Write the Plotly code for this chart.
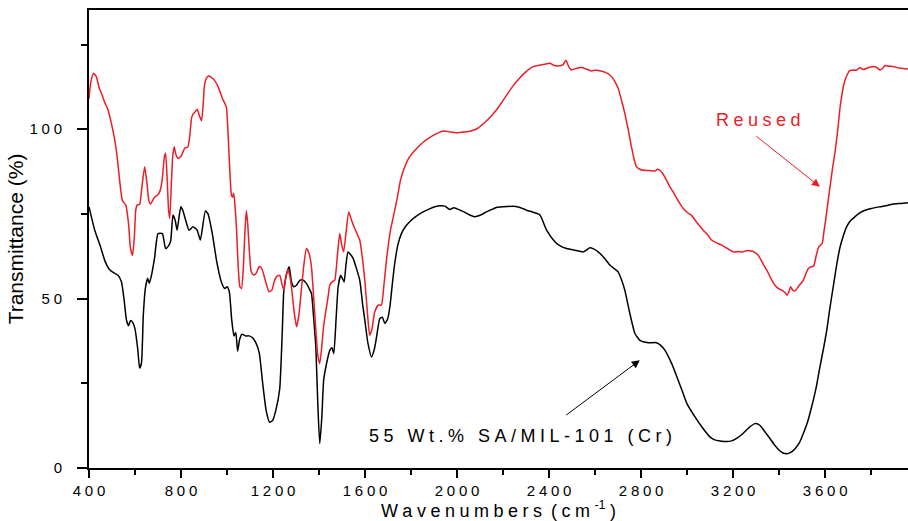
import plotly.graph_objects as go

# ---------------- data ----------------
wn_sample = [400, 425, 450, 470, 490, 510, 526, 541, 552, 563, 572, 580, 590, 600, 612, 620, 628, 636, 645, 655,
             662, 672, 685, 700, 719, 733, 745, 755, 765, 775, 783, 799, 808, 820, 835, 852, 870, 884, 906, 917,
             936, 955, 975, 990, 1000, 1010, 1020, 1030, 1038, 1046, 1055, 1065, 1080, 1095, 1110, 1125, 1140, 1155, 1170, 1185,
             1198, 1212, 1229, 1240, 1247, 1258, 1270, 1280, 1290, 1303, 1316, 1330, 1345, 1357, 1367, 1378, 1386, 1395, 1403, 1412,
             1420, 1433, 1447, 1456, 1464, 1474, 1483, 1494, 1501, 1509, 1517, 1526, 1537, 1548, 1562, 1577, 1590, 1599, 1612, 1628,
             1640, 1650, 1664, 1675, 1686, 1698, 1708, 1718, 1729, 1743, 1758, 1775, 1794, 1820, 1852, 1880, 1903, 1930, 1947, 1958,
             1968, 1985, 2000, 2030, 2055, 2077, 2100, 2128, 2150, 2171, 2200, 2243, 2270, 2302, 2330, 2360, 2389, 2425, 2450, 2476,
             2510, 2548, 2563, 2577, 2595, 2613, 2640, 2664, 2700, 2715, 2729, 2751, 2773, 2795, 2831, 2867, 2885, 2903, 2933, 2961,
             2980, 2999, 3034, 3070, 3099, 3120, 3143, 3170, 3193, 3220, 3243, 3270, 3295, 3310, 3323, 3340, 3360, 3380, 3398, 3415,
             3433, 3450, 3469, 3488, 3505, 3523, 3541, 3560, 3577, 3592, 3607, 3620, 3635, 3650, 3665, 3680, 3693, 3710, 3730, 3750,
             3773, 3800, 3838, 3870, 3896, 3930, 3960]
t_sample = [77.1, 70.2, 65.3, 61, 58.5, 57.5, 56.9, 55, 50, 43.6, 42, 43.5, 43, 41, 35, 29.5, 31, 45, 53, 56,
            54.5, 57, 62, 69.2, 69.2, 64.8, 65.5, 67, 74.7, 73, 70.2, 77.1, 76, 73.2, 70.2, 71.2, 70.2, 67.3, 75.9, 75.1,
            69.2, 61, 55, 53, 53.5, 52, 44, 39, 40, 34.5, 38, 39.5, 39, 39, 38.5, 37, 34, 25, 17, 13.5,
            14, 17, 23.4, 40, 52.5, 57, 59.4, 55, 53.5, 54, 55.4, 55.5, 54.5, 53, 51.5, 43, 35.7, 18, 7.2, 15,
            25.9, 31, 34.8, 35.5, 33.8, 44, 53.5, 56.9, 56, 54.9, 60, 63.8, 63, 61.9, 59, 55.4, 48, 43.6, 37, 32.8,
            35, 38.7, 44.1, 44.5, 42.7, 44, 47.6, 54, 60.4, 66, 69.2, 71.2, 72.7, 74.2, 75.6, 76.5, 77.1, 77.4, 77.3, 76.8,
            76.3, 76.8, 76.5, 75.6, 74.7, 74.2, 74.6, 75.6, 76.3, 76.9, 77.1, 77.3, 77, 76.1, 75.5, 74.7, 70.2, 66.8, 65.5, 64.8,
            64.3, 63.8, 64.4, 65, 64.6, 63.8, 62, 59.9, 57.9, 55.5, 52.5, 45.6, 39.7, 37.7, 37, 37, 36.2, 34.8, 30.8, 25.9,
            22.5, 19, 15.1, 11.6, 9.2, 8.3, 8, 7.8, 8, 9, 10.2, 12, 13.1, 12.9, 12.1, 10.5, 8.7, 6.8, 5.4, 4.5,
            4.2, 4.6, 5.7, 7.5, 10.2, 13.5, 18, 23.5, 29.8, 35, 40.7, 47, 53.5, 60, 65.3, 68.8, 71.2, 73, 74.2, 75.3,
            76.1, 76.6, 77.1, 77.5, 77.9, 78.1, 78.3]

wn_reused = [400, 408, 420, 432, 445, 454, 468, 483, 498, 512, 522, 530, 538, 545, 560, 572, 580, 589, 597, 603,
             609, 620, 630, 642, 652, 660, 667, 677, 686, 697, 707, 718, 728, 733, 740, 746, 751, 758, 764, 770,
             778, 787, 800, 816, 830, 838, 845, 850, 860, 870, 880, 889, 896, 902, 910, 920, 932, 945, 961, 970,
             980, 988, 997, 1005, 1012, 1019, 1024, 1029, 1035, 1041, 1048, 1056, 1063, 1070, 1078, 1084, 1090, 1097, 1105, 1115,
             1127, 1140, 1150, 1160, 1172, 1183, 1195, 1205, 1215, 1229, 1238, 1247, 1257, 1265, 1272, 1280, 1292, 1302, 1312, 1323,
             1334, 1345, 1356, 1367, 1377, 1386, 1395, 1403, 1412, 1420, 1429, 1438, 1447, 1458, 1468, 1480, 1490, 1498, 1507, 1518,
             1529, 1542, 1555, 1566, 1577, 1590, 1599, 1610, 1620, 1630, 1642, 1657, 1671, 1682, 1693, 1710, 1729, 1742, 1754, 1770,
             1790, 1820, 1850, 1880, 1910, 1940, 1970, 2000, 2030, 2060, 2090, 2120, 2150, 2180, 2210, 2240, 2270, 2300, 2330, 2357,
             2380, 2403, 2420, 2440, 2460, 2473, 2485, 2497, 2520, 2541, 2560, 2584, 2600, 2620, 2645, 2664, 2682, 2700, 2715, 2729,
             2745, 2758, 2770, 2780, 2795, 2809, 2835, 2860, 2872, 2881, 2895, 2910, 2925, 2939, 2960, 2983, 3005, 3020, 3034, 3050,
             3070, 3090, 3106, 3130, 3150, 3175, 3200, 3222, 3243, 3260, 3273, 3290, 3309, 3328, 3346, 3364, 3381, 3396, 3411, 3425,
             3435, 3442, 3450, 3458, 3469, 3488, 3505, 3517, 3527, 3540, 3550, 3562, 3572, 3587, 3595, 3602, 3617, 3631, 3644, 3655,
             3665, 3682, 3695, 3707, 3722, 3737, 3751, 3765, 3780, 3809, 3825, 3838, 3850, 3860, 3878, 3896, 3925, 3960]
t_reused = [109, 114, 116.5, 115.5, 112, 110.6, 108, 105.7, 101.5, 96.8, 92, 87, 82, 79, 77.6, 72, 65, 62.8, 68, 76,
            77.6, 77.8, 83, 88.9, 84, 79, 77.9, 79, 80, 80.5, 81.5, 85, 92, 92.9, 85, 76, 73.7, 84, 92, 94.8,
            92.5, 91.4, 92, 94.4, 94.8, 98, 103, 104.2, 105, 105.9, 104, 102.5, 107, 113, 115, 115.7, 115.3, 114.5, 112.6, 111,
            109.1, 108, 106.6, 98, 88, 80.6, 80, 81.1, 77, 71, 60, 53.5, 53, 58, 70, 76, 72, 64, 58, 57,
            57.5, 59.5, 59, 57, 54, 52, 52.5, 55, 56.5, 56.9, 54.5, 52.5, 57, 58.4, 57, 53.5, 46, 41.7, 45, 52.5,
            60, 64.8, 63.5, 59.4, 50, 40.7, 33, 30.8, 36, 42, 46.1, 50, 54, 55, 55.4, 63, 69.2, 66, 63.8, 70,
            75.6, 73, 70.7, 69, 67.3, 61, 55.4, 46, 39.2, 41, 46.1, 48.1, 48.1, 54, 61.4, 70, 76.1, 80.5, 85, 88.5,
            91.5, 94, 96, 97.5, 98.7, 99.5, 99.2, 99, 99.2, 99.5, 100.3, 102, 104, 106.5, 109.5, 112.5, 115, 117, 118.5, 118.9,
            119.2, 119.5, 118.9, 118.7, 119, 120.4, 118.5, 117.5, 118, 118.2, 117.8, 117.2, 117.4, 117.3, 116.8, 116, 114.5, 112.1, 108.5, 104.7,
            99.5, 94.8, 91, 88.9, 88.2, 87.9, 87.8, 87.7, 88.2, 87.9, 86.8, 85, 83, 81.5, 79, 76.6, 75.2, 74.5, 73.2, 71.8,
            70.2, 68.8, 67.3, 66.4, 65.8, 64.8, 63.8, 63.9, 63.8, 64.2, 64.1, 63.8, 62.8, 60.5, 58.4, 56, 54, 53, 52.5, 51.8,
            51, 52, 53.5, 52.6, 52.3, 54, 55.4, 57.5, 58.9, 59.4, 59.6, 63, 65.3, 66.3, 70, 73.2, 81, 88, 93.8, 100,
            106.6, 113.5, 116, 117.3, 117.4, 117.5, 118.2, 117.6, 118, 118.5, 118.2, 117.5, 118, 118.8, 118.6, 118.5, 118, 117.8]

x_tick_values = [400, 800, 1200, 1600, 2000, 2400, 2800, 3200, 3600]
x_tick_labels = ["400", "800", "1200", "1600", "2000", "2400", "2800", "3200", "3600"]
y_tick_values = [0, 50, 100]
y_tick_labels = ["0", "50", "100"]

label_sample = "55 Wt.% SA/MIL-101 (Cr)"
label_reused = "Reused"

# ---------------- styling ----------------
FONT = "Arial, Liberation Sans, sans-serif"
GAP = "\u2005"


def spaced(s):
    return GAP.join(list(s))


fig = go.Figure()
fig.add_trace(go.Scatter(x=wn_sample, y=t_sample, mode="lines",
                         line=dict(color="#000000", width=1.5, shape="spline", smoothing=0.5),
                         showlegend=False, hoverinfo="skip"))
fig.add_trace(go.Scatter(x=wn_reused, y=t_reused, mode="lines",
                         line=dict(color="#ee1c24", width=1.5, shape="spline", smoothing=0.5),
                         showlegend=False, hoverinfo="skip"))

fig.update_layout(
    width=908, height=521,
    margin=dict(l=89, r=0, t=10, b=53, autoexpand=False),
    paper_bgcolor="white", plot_bgcolor="white",
    font=dict(family=FONT, color="black"),
    xaxis=dict(
        range=[400, 3960], showgrid=False, zeroline=False, automargin=False,
        showline=True, linecolor="black", linewidth=2, mirror=True,
        ticks="outside", ticklen=8, tickwidth=2, tickcolor="black",
        tickvals=x_tick_values, ticktext=[spaced(t) for t in x_tick_labels],
        tickfont=dict(size=15, family=FONT), ticklabelstandoff=0,
        minor=dict(dtick=200, tick0=400, ticks="outside", ticklen=5, tickwidth=2, tickcolor="black", showgrid=False),
        title=dict(text=spaced("Wavenumbers") + GAP + GAP + spaced("(cm") + GAP + "<sup>-1</sup>" + GAP + ")",
                   font=dict(size=18, family=FONT), standoff=2),
    ),
    yaxis=dict(
        range=[0, 135.2], showgrid=False, zeroline=False, automargin=False,
        showline=True, linecolor="black", linewidth=2, mirror=False,
        ticks="outside", ticklen=10, tickwidth=2, tickcolor="black",
        tickvals=y_tick_values, ticktext=[spaced(t) for t in y_tick_labels],
        tickfont=dict(size=15, family=FONT), ticklabelstandoff=12,
        minor=dict(dtick=25, tick0=0, ticks="outside", ticklen=6, tickwidth=2, tickcolor="black", showgrid=False),
        title=dict(text="Transmittance (%)", font=dict(size=21, family=FONT), standoff=0),
    ),
)

# labels
fig.add_annotation(x=3312, y=102.7, xref="x", yref="y", text=spaced(label_reused), showarrow=False,
                   font=dict(size=18, color="#ee1c24", family=FONT), xanchor="center", yanchor="middle")
fig.add_annotation(x=2277, y=9.4, xref="x", yref="y", text=spaced(label_sample), showarrow=False,
                   font=dict(size=18, color="black", family=FONT), xanchor="center", yanchor="middle")
# arrows
fig.add_annotation(x=3577, y=83, ax=3294, ay=98.3, xref="x", yref="y", axref="x", ayref="y", text="",
                   showarrow=True, arrowhead=2, arrowsize=1.6, arrowwidth=1, arrowcolor="#ee1c24")
fig.add_annotation(x=2794, y=31.8, ax=2468, ay=15.3, xref="x", yref="y", axref="x", ayref="y", text="",
                   showarrow=True, arrowhead=2, arrowsize=1.6, arrowwidth=1, arrowcolor="black")

fig.write_html("out.html", config={"displayModeBar": False},
               post_script="document.body.style.margin='0';document.body.style.overflow='hidden';")
